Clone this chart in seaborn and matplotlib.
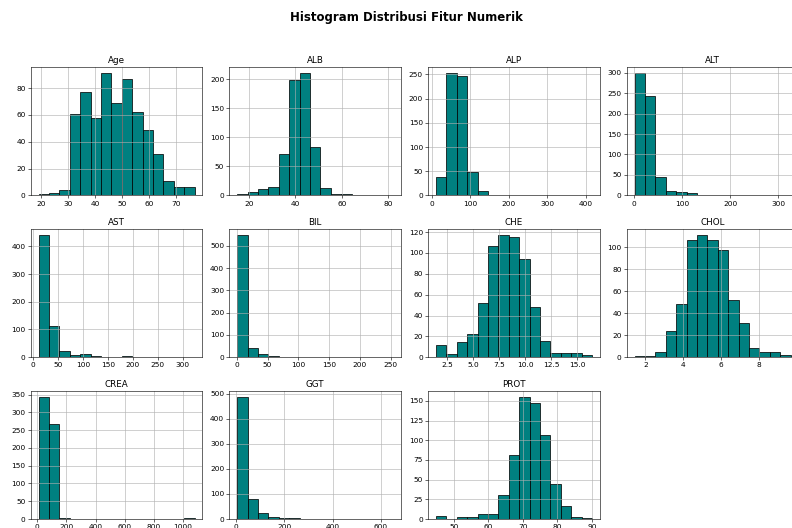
import numpy as np
import pandas as pd
import matplotlib
matplotlib.use("Agg")
import matplotlib.pyplot as plt
import seaborn as sns

# feature names
features = ["Age", "ALB", "ALP", "ALT", "AST", "BIL", "CHE", "CHOL", "CREA", "GGT", "PROT"]

# data range (min, max) per feature
ranges = {
    "Age": (19.0, 77.0),
    "ALB": (14.9, 82.2),
    "ALP": (11.3, 416.6),
    "ALT": (0.9, 325.3),
    "AST": (10.6, 324.0),
    "BIL": (0.8, 254.0),
    "CHE": (1.42, 16.41),
    "CHOL": (1.43, 9.67),
    "CREA": (8.0, 1079.1),
    "GGT": (4.5, 650.9),
    "PROT": (44.8, 90.0),
}

# counts per bin (15 bins each)
age_counts = [1, 2, 4, 61, 77, 58, 91, 69, 87, 62, 49, 31, 11, 6, 6]
alb_counts = [2, 6, 11, 14, 71, 199, 210, 83, 13, 2, 2, 0, 0, 0, 1]
alp_counts = [38, 252, 247, 48, 9, 0, 1, 1, 0, 0, 0, 0, 0, 0, 1]
alt_counts = [298, 242, 44, 10, 9, 6, 0, 2, 0, 0, 0, 0, 0, 0, 1]
ast_counts = [440, 113, 22, 9, 13, 4, 2, 2, 4, 1, 0, 0, 0, 0, 2]
bil_counts = [548, 43, 13, 4, 2, 1, 0, 0, 0, 0, 1, 2, 0, 0, 1]
che_counts = [12, 3, 15, 22, 52, 107, 117, 115, 94, 48, 16, 4, 4, 4, 2]
chol_counts = [1, 1, 5, 24, 48, 107, 111, 107, 98, 52, 31, 8, 5, 5, 2]
crea_counts = [343, 267, 2, 0, 0, 0, 0, 1, 0, 0, 0, 0, 0, 0, 2]
ggt_counts = [486, 81, 25, 10, 5, 3, 2, 0, 0, 2, 0, 0, 0, 0, 1]
prot_counts = [4, 0, 2, 2, 7, 7, 31, 81, 155, 148, 107, 45, 17, 3, 1]

counts = {
    "Age": age_counts, "ALB": alb_counts, "ALP": alp_counts, "ALT": alt_counts,
    "AST": ast_counts, "BIL": bil_counts, "CHE": che_counts, "CHOL": chol_counts,
    "CREA": crea_counts, "GGT": ggt_counts, "PROT": prot_counts,
}

n_bins = 15

fig, axes = plt.subplots(3, 4, figsize=(15, 10), dpi=52.8)
fig.subplots_adjust(left=0.0388, right=1.0081, top=0.8725, bottom=0.017,
                    wspace=0.158, hspace=0.263)

for ax, name in zip(axes.flat, features):
    lo, hi = ranges[name]
    edges = np.linspace(lo, hi, n_bins + 1)
    centers = (edges[:-1] + edges[1:]) / 2
    df = pd.DataFrame({"value": centers, "count": counts[name]})
    sns.histplot(data=df, x="value", weights="count", bins=n_bins, binrange=(lo, hi),
                 ax=ax, color="teal", edgecolor="black", alpha=1, linewidth=1)
    ax.set_title(name, fontsize=12)
    ax.set_xlabel("")
    ax.set_ylabel("")
    ax.grid(True, color="#b0b0b0", linewidth=0.8)
    ax.tick_params(labelsize=10)

for ax in axes.flat[len(features):]:
    ax.set_visible(False)

fig.suptitle("Histogram Distribusi Fitur Numerik", fontsize=16, fontweight="bold",
             x=0.5126, y=0.98)

fig.savefig("out.png", dpi=52.8)
